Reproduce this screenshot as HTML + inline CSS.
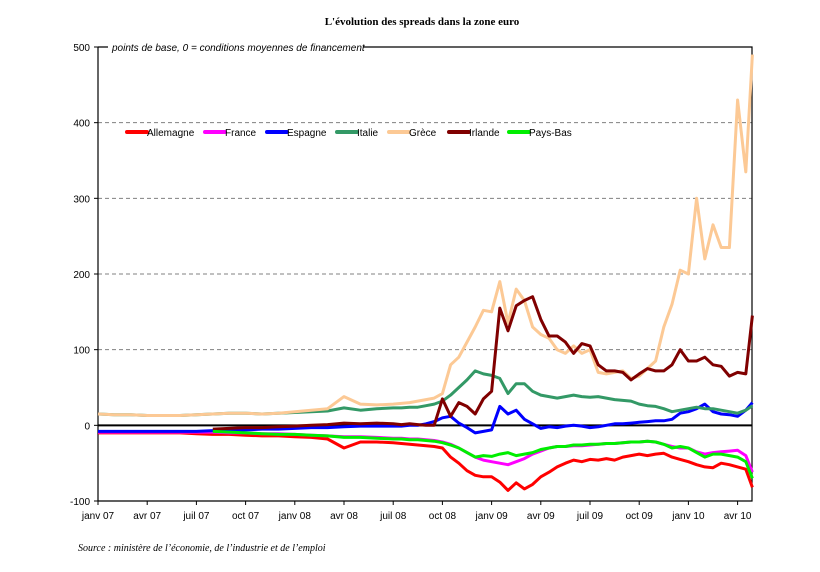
<!DOCTYPE html>
<html><head><meta charset="utf-8"><style>
body{margin:0;background:#fff;}
svg text{font-family:"Liberation Sans",sans-serif;}
</style></head><body>
<svg id="chart" width="820" height="567" viewBox="0 0 820 567" xmlns="http://www.w3.org/2000/svg">
<text x="422" y="25" text-anchor="middle" style="font-family:'Liberation Serif',serif;font-weight:bold;font-size:11px">L'évolution des spreads dans la zone euro</text>
<text x="78" y="551" style="font-family:'Liberation Serif',serif;font-style:italic;font-size:10px">Source : ministère de l’économie, de l’industrie et de l’emploi</text>
<g id="grid"></g><g id="axes"></g><g id="series"></g><g id="legend"></g>
</svg>
<script>
const tickLabels=["janv 07","avr 07","juil 07","oct 07","janv 08","avr 08","juil 08","oct 08","janv 09","avr 09","juil 09","oct 09","janv 10","avr 10"];
const yTicks=[-100,0,100,200,300,400,500];
const dates=[0,1,2,3,4,5,6,7,8,9,10,11,12,13,14,15,16,17,18,18.5,19,19.5,20,20.5,21,21.5,22,22.5,23,23.5,24,24.5,25,25.5,26,26.5,27,27.5,28,28.5,29,29.5,30,30.5,31,31.5,32,32.5,33,33.5,34,34.5,35,35.5,36,36.5,37,37.5,38,38.5,39,39.5,39.9];
const allemagne=[-10,-10,-10,-10,-10,-10,-11,-12,-12,-13,-14,-14,-15,-16,-18,-30,-22,-22,-23,-24,-25,-26,-27,-28,-30,-42,-50,-60,-66,-68,-68,-75,-86,-76,-84,-78,-68,-62,-55,-50,-46,-48,-45,-46,-44,-46,-42,-40,-38,-40,-38,-37,-42,-45,-48,-52,-55,-56,-50,-52,-55,-58,-82];
const france=[-9,-9,-9,-9,-9,-9,-9,-9,-10,-10,-11,-11,-12,-13,-14,-15,-15,-16,-17,-17,-18,-18,-19,-20,-22,-25,-30,-36,-42,-46,-48,-50,-52,-48,-44,-38,-34,-30,-28,-28,-27,-27,-26,-25,-24,-24,-23,-22,-22,-21,-22,-25,-28,-30,-30,-35,-38,-36,-35,-34,-33,-40,-62];
const espagne=[-8,-8,-8,-8,-8,-8,-8,-7,-7,-6,-5,-5,-4,-3,-3,-2,-1,-1,-1,-1,0,0,2,5,10,12,3,-3,-10,-8,-6,25,15,20,8,2,-4,-2,-3,-1,0,-1,-3,-2,0,2,2,3,4,5,6,6,8,16,18,22,28,18,15,14,12,20,30];
const italie=[15,14,14,13,13,13,14,15,16,16,15,16,17,18,19,23,20,22,23,23,24,24,26,28,32,40,50,60,72,68,66,62,42,55,55,45,40,38,36,38,40,38,37,38,36,34,33,32,28,26,25,22,18,20,22,24,22,22,20,18,16,20,26];
const grece=[15,14,14,13,13,13,14,15,16,16,15,16,18,20,22,38,28,27,28,29,30,32,34,36,42,80,90,110,130,152,150,190,135,180,165,130,120,115,100,95,105,95,100,70,68,70,72,62,65,75,85,130,160,205,200,300,220,265,235,235,430,335,490];
const irlande=[null,null,null,null,null,null,null,-5,-4,-3,-3,-2,-1,0,1,3,2,3,2,1,2,1,0,0,35,12,30,25,15,35,45,155,125,158,165,170,140,118,118,110,95,108,105,80,72,72,70,60,68,75,72,72,80,100,85,85,90,80,78,65,70,68,145];
const paysBas=[null,null,null,null,null,null,null,-8,-9,-10,-11,-12,-12,-13,-14,-16,-16,-17,-18,-18,-19,-19,-20,-21,-23,-26,-30,-36,-42,-40,-41,-38,-36,-40,-38,-36,-32,-30,-28,-28,-26,-26,-25,-25,-24,-24,-23,-22,-22,-21,-22,-25,-30,-28,-30,-36,-42,-38,-38,-40,-42,-48,-70];
const seriesNames=["Allemagne","France","Espagne","Italie","Grèce","Irlande","Pays-Bas"];
const seriesData=[allemagne,france,espagne,italie,grece,irlande,paysBas];
const colors=["#ff0000","#ff00ff","#0000ff","#339966","#fcc995","#800000","#00ee00"];
const drawOrder=[0,1,2,3,4,5,6];

const NS="http://www.w3.org/2000/svg";
const X0=98,X1=752,Y0=47,Y1=501,PXM=16.4;
const xs=t=>X0+t*PXM;
const ys=v=>Y1-(v+100)*(Y1-Y0)/600;
function mk(tag,parent,attrs){const e=document.createElementNS(NS,tag);for(const k in attrs)e.setAttribute(k,attrs[k]);parent.appendChild(e);return e;}
const grid=document.getElementById('grid'),axes=document.getElementById('axes'),ser=document.getElementById('series'),leg=document.getElementById('legend');

yTicks.forEach(v=>{
  const y=ys(v);
  if(v>0&&v<500){const g=mk('line',grid,{x1:X0,x2:X1,y1:y,y2:y,stroke:'#808080','stroke-width':1,'stroke-dasharray':'4,3'});
    
    }
  const tk=mk('line',axes,{x1:X0-4,x2:X0,y1:y,y2:y,stroke:'#000'});
  
  
  const t=mk('text',axes,{x:X0-8,y:y+4,'text-anchor':'end','font-size':'10'});t.textContent=v;
  
  
});
// frame
const fr=mk('path',axes,{d:`M${X0},${Y0} L${X0},${Y1} L${X1},${Y1} L${X1},${Y0} L${X0},${Y0}`,fill:'none',stroke:'#000','stroke-width':1.2});


const zl=mk('line',axes,{x1:X0,x2:X1,y1:ys(0),y2:ys(0),stroke:'#000','stroke-width':2});


const sbg=mk('rect',axes,{x:108,y:41,width:255,height:12,fill:'#fff'});


const st=mk('text',axes,{x:112,y:51,'font-size':'10','font-style':'italic'});st.textContent='points de base, 0 = conditions moyennes de financement';


tickLabels.forEach((lab,i)=>{
  const x=xs(i*3);
  const tk=mk('line',axes,{x1:x,x2:x,y1:Y1,y2:Y1+4,stroke:'#000'});
  
  
  const t=mk('text',axes,{x:x,y:Y1+18,'text-anchor':'middle','font-size':'10'});t.textContent=lab;
  
  
});
drawOrder.forEach(si=>{
  const vals=seriesData[si];let d='',pen=false;
  for(let i=0;i<dates.length&&i<vals.length;i++){
    if(vals[i]===null||vals[i]===undefined){pen=false;continue;}
    d+=(pen?'L':'M')+xs(dates[i]).toFixed(1)+','+ys(vals[i]).toFixed(1)+' ';pen=true;
  }
  const p=mk('path',ser,{d:d,fill:'none',stroke:colors[si],'stroke-width':3,'stroke-linejoin':'round'});
  
  
});
const legX=[127,205,267,337,389,449,509];
seriesNames.forEach((n,i)=>{
  const l=mk('line',leg,{x1:legX[i],x2:legX[i]+20,y1:132,y2:132,stroke:colors[i],'stroke-width':4,'stroke-linecap':'round'});
  
  
  const t=mk('text',leg,{x:legX[i]+20,y:136,'font-size':'10'});t.textContent=n;
  
  
});
</script>
</body></html>
